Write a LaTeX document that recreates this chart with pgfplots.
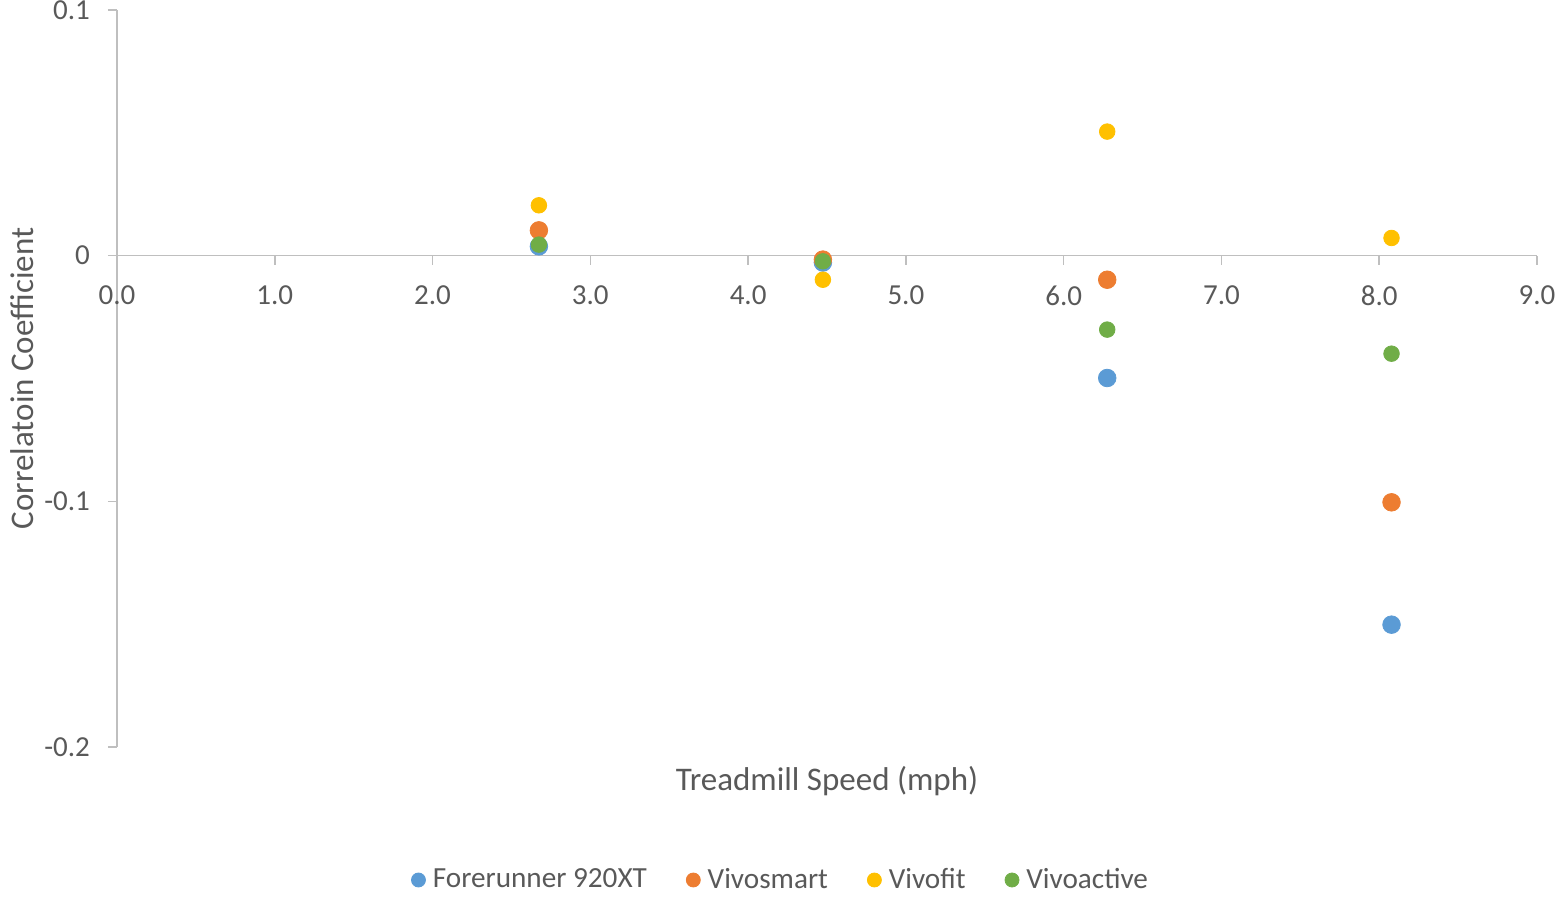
\documentclass[border=0pt]{standalone}
\usepackage{pgfplots}
\pgfplotsset{compat=1.18}
\usepackage{fontspec}
\setmainfont{Carlito}
\definecolor{txt}{HTML}{595959}
\definecolor{axl}{HTML}{BFBFBF}
\definecolor{cblue}{HTML}{5B9BD5}
\definecolor{corange}{HTML}{ED7D31}
\definecolor{cyellow}{HTML}{FFC000}
\definecolor{cgreen}{HTML}{70AD47}
\begin{document}
\begin{tikzpicture}
\useasboundingbox (-58.5pt,-75.5pt) rectangle (722.5pt,373.5pt);
\begin{axis}[
  at={(0pt,0pt)}, anchor=south west,
  scale only axis, width=710pt, height=368.5pt,
  xmin=0, xmax=9, ymin=-0.2, ymax=0.1,
  axis x line=middle, axis y line=left,
  axis line style={axl, line width=0.8pt, -},
  xtick={0,1,...,9}, ytick={-0.2,-0.1,0,0.1},
  yticklabels={-0.2,-0.1,0,0.1},
  xticklabel={\pgfmathprintnumber[fixed,fixed zerofill,precision=1]{\tick}},
  hide obscured x ticks=false,
  tick align=outside, major tick length=4.5pt,
  tick style={axl, line width=0.8pt},
  x tick label style={font=\fontsize{14.5}{17}\selectfont, text=txt, anchor=north, yshift=-7pt},
  y tick label style={font=\fontsize{14.5}{17}\selectfont, text=txt, anchor=east, xshift=-5.5pt},
  /pgf/number format/assume math mode=true,
  xlabel={Treadmill Speed (mph)},
  ylabel={Correlatoin Coefficient},
  xlabel style={font=\fontsize{16.5}{19}\selectfont, text=txt, at={(axis description cs:0.5,0)}, anchor=center, yshift=-17pt},
  ylabel style={font=\fontsize{16.5}{19}\selectfont, text=txt, at={(axis description cs:0,0.5)}, anchor=center, yshift=47.5pt},
  legend columns=4,
  legend style={draw=none, fill=none, font=\fontsize{14.6}{17}\selectfont, text=txt,
    at={(axis description cs:0.468,0)}, anchor=center, yshift=-66.5pt,
    /tikz/every odd column/.append style={column sep=1.5pt},
    /tikz/every even column/.append style={column sep=17.5pt}},
  legend cell align=left,
  legend image code/.code={\fill[#1] (0pt,0pt) circle (3.5pt);},
  clip=false,
]
\addplot[only marks, mark=*, mark size=4.4pt, cblue, mark options={draw=cblue, fill=cblue}]
  coordinates {(2.674,0.0038) (4.474,-0.0028) (6.276,-0.0498) (8.078,-0.1502)};
\addlegendentry{Forerunner 920XT}
\addplot[only marks, mark=*, mark size=4.4pt, corange, mark options={draw=corange, fill=corange}]
  coordinates {(2.674,0.0103) (4.474,-0.0016) (6.276,-0.0098) (8.078,-0.1004)};
\addlegendentry{Vivosmart}
\addplot[only marks, mark=*, mark size=3.9pt, cyellow, mark options={draw=cyellow, fill=cyellow}]
  coordinates {(2.674,0.0205) (4.474,-0.0098) (6.276,0.0505) (8.078,0.0072)};
\addlegendentry{Vivofit}
\addplot[only marks, mark=*, mark size=3.9pt, cgreen, mark options={draw=cgreen, fill=cgreen}]
  coordinates {(2.674,0.0045) (4.474,-0.0023) (6.276,-0.0301) (8.078,-0.0399)};
\addlegendentry{Vivoactive}
\end{axis}
\end{tikzpicture}
\end{document}
